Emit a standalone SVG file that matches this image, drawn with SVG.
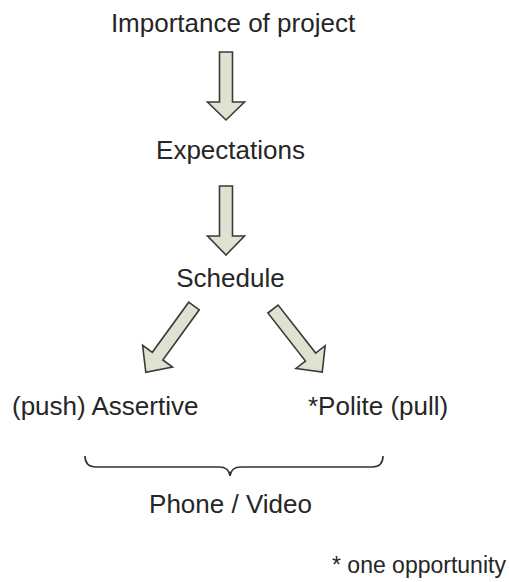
<svg xmlns="http://www.w3.org/2000/svg" width="509" height="582" viewBox="0 0 509 582">
<style>
text{font-family:"Liberation Sans",Arial,sans-serif;font-size:26px;fill:#262626}
.arrow{fill:#dfe1d1;stroke:#3a3a3a;stroke-width:1.6;stroke-linejoin:miter}
.brace{fill:none;stroke:#333;stroke-width:1.6}
</style>
<rect width="509" height="582" fill="#fff"/>
<g id="importance"><text x="233" y="32" text-anchor="middle">Importance of project</text></g>
<g id="expectations"><text x="230.5" y="159" text-anchor="middle">Expectations</text></g>
<g id="schedule"><text x="230.5" y="287" text-anchor="middle">Schedule</text></g>
<g id="assertive"><text x="12" y="415">(push) Assertive</text></g>
<g id="polite"><text x="308" y="415">*Polite (pull)</text></g>
<g id="phone"><text x="230.5" y="513" text-anchor="middle">Phone / Video</text></g>
<g id="note"><text x="332" y="573" style="font-size:23px">* one opportunity</text></g>
<g id="connectors">
<polygon class="arrow" points="219.5,52 232.5,52 232.5,102 244.5,102 226,120 207.5,102 219.5,102"/>
<polygon class="arrow" points="219.5,186 232.5,186 232.5,236 244.5,236 226,255 207.5,236 219.5,236"/>
<polygon class="arrow" transform="translate(194,306) rotate(36)" points="-6.5,0 6.5,0 6.5,62 18.5,62 0,82 -18.5,62 -6.5,62"/>
<polygon class="arrow" transform="translate(273,309) rotate(-38)" points="-6.5,0 6.5,0 6.5,61 18.5,61 0,80 -18.5,61 -6.5,61"/>
<path class="brace" d="M85,456 Q85,467 96,467 L219,467 Q229,467 230,476 Q231,467 241,467 L372,467 Q383,467 383,456"/>
</g>
</svg>
